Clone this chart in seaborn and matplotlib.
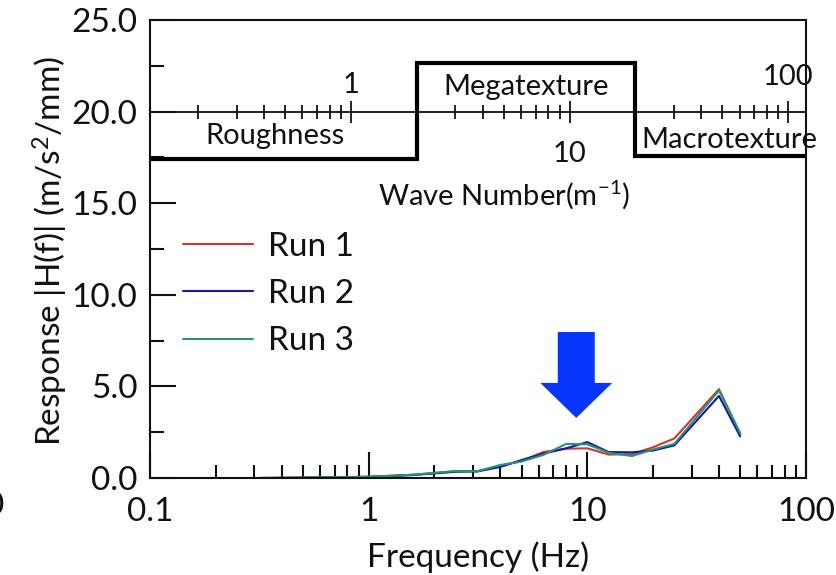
import matplotlib
matplotlib.use("Agg")
import numpy as np
import pandas as pd
import seaborn as sns
import matplotlib.pyplot as plt
from matplotlib.ticker import FixedLocator, LogLocator, MultipleLocator, NullFormatter, FuncFormatter, FormatStrFormatter

# Frequency response of the three runs (1/3-octave band centres)
freq_hz = [0.315, 0.4, 0.5, 0.63, 0.8, 1.0, 1.25, 1.6, 2.0, 2.5, 3.15, 4.0,
           5.0, 6.3, 8.0, 10.0, 12.5, 16.0, 20.0, 25.0, 40.0, 50.0]
run1 = [0.0, 0.01, 0.02, 0.03, 0.05, 0.07, 0.12, 0.18, 0.27, 0.37, 0.37, 0.66,
        0.93, 1.42, 1.60, 1.62, 1.28, 1.30, 1.68, 2.16, 4.85, 2.40]
run2 = [0.0, 0.01, 0.02, 0.03, 0.04, 0.06, 0.10, 0.16, 0.25, 0.34, 0.36, 0.60,
        0.98, 1.33, 1.62, 1.96, 1.42, 1.40, 1.50, 1.78, 4.48, 2.27]
run3 = [0.0, 0.01, 0.02, 0.03, 0.05, 0.07, 0.12, 0.18, 0.28, 0.38, 0.37, 0.71,
        0.90, 1.26, 1.86, 1.84, 1.38, 1.20, 1.56, 1.86, 4.78, 2.45]
run_names = ["Run 1", "Run 2", "Run 3"]
run_colors = ["#d2362f", "#1616b0", "#24966a"]

# Pavement texture bands on the wave-number scale
band_names = ["Roughness", "Megatexture", "Macrotexture"]
band_levels = [17.4, 22.65, 17.6]
band_inner_edges = [2.0, 20.0]      # wave number, 1/m
speed = 0.83                        # m/s, converts wave number to frequency
wave_ticks = [1, 10, 100]

x_ticks = [0.1, 1, 10, 100]

FS = 24      # axis labels, tick labels, legend
FS_IN = 21   # texts inside the plot

sns.set_theme(style="ticks")
plt.rcParams.update({
    "font.size": FS_IN,
    "axes.labelsize": FS,
    "legend.fontsize": FS,
    "xtick.labelsize": FS,
    "ytick.labelsize": FS,
    "mathtext.fontset": "custom",
    "mathtext.rm": "Lato",
    "mathtext.it": "Lato",
    "mathtext.bf": "Lato:bold",
    "axes.edgecolor": "#111111",
    "axes.labelcolor": "#111111",
    "axes.linewidth": 1.5,
    "text.color": "#111111",
    "xtick.color": "#111111",
    "ytick.color": "#111111",
})
plt.rcParams["font.family"] = ["Lato", "DejaVu Sans"]

fig = plt.figure(figsize=(8.37, 5.75), dpi=100)
ax = fig.add_axes([150 / 837, 1 - 478 / 575, 656 / 837, 458 / 575])
ax.set_xscale("log")

df = pd.DataFrame({
    "Frequency": freq_hz * 3,
    "Response": run1 + run2 + run3,
    "Run": sum([[n] * len(freq_hz) for n in run_names], []),
})
sns.lineplot(data=df, x="Frequency", y="Response", hue="Run",
             palette=dict(zip(run_names, run_colors)), linewidth=1.5, ax=ax)

ax.set_xlim(0.1, 100)
ax.set_ylim(0, 25)

# Axis ticks
ax.xaxis.set_major_locator(FixedLocator(x_ticks))
ax.xaxis.set_major_formatter(FuncFormatter(lambda v, p: f"{v:g}"))
ax.xaxis.set_minor_locator(LogLocator(base=10, subs=np.arange(2, 10)))
ax.xaxis.set_minor_formatter(NullFormatter())
ax.yaxis.set_major_locator(MultipleLocator(5))
ax.yaxis.set_minor_locator(MultipleLocator(2.5))
ax.yaxis.set_major_formatter(FormatStrFormatter("%.1f"))
ax.tick_params(which="both", direction="in", width=1.5, top=False, right=False)
ax.tick_params(axis="x", which="major", length=19, pad=14)
ax.tick_params(axis="x", which="minor", length=9.5)
ax.tick_params(axis="y", which="major", length=19, pad=9)
ax.tick_params(axis="y", which="minor", length=10)
for s in ax.spines.values():
    s.set_visible(True)
    s.set_linewidth(1.5)

ax.set_xlabel("Frequency (Hz)", labelpad=10)
ax.set_ylabel(r"Response |H(f)| (m/s$^{2}$/mm)")
ax.yaxis.set_label_coords(-0.122, 0.495)

# Wave-number scale drawn across the plot at y = 20
sec = ax.secondary_xaxis(0.8, functions=(lambda f: f / speed, lambda n: n * speed))
sec.xaxis.set_major_locator(FixedLocator(wave_ticks))
sec.xaxis.set_minor_locator(LogLocator(base=10, subs=np.arange(2, 10)))
sec.xaxis.set_minor_formatter(NullFormatter())
sec.tick_params(which="both", direction="inout", width=1.3, labeltop=False, labelbottom=False)
sec.tick_params(which="major", length=16)
sec.tick_params(which="minor", length=10)
for s in sec.spines.values():
    s.set_linewidth(1.3)
sec.set_xlabel("")

wave_label_y = [21.45, 17.7, 21.9]
for n, yv in zip(wave_ticks, wave_label_y):
    ax.text(n * speed, yv, f"{n}", ha="center", va="center", fontsize=FS_IN)
ax.text(4.18, 15.45, r"Wave Number(m$^{-1}$)", ha="center", va="center", fontsize=FS_IN)

# Texture band outline
edges = [0.1] + [n * speed for n in band_inner_edges] + [100]
ax.stairs(band_levels, edges, baseline=None, color="black", linewidth=3)
band_label_pos = [(0.372, 18.67), (5.27, 21.34), (44.5, 18.45)]
for name, (xv, yv) in zip(band_names, band_label_pos):
    ax.text(xv, yv, name, ha="center", va="center", fontsize=FS_IN)

# Highlight arrow
ax.annotate("", xy=(8.9, 3.28), xytext=(8.9, 7.97),
            arrowprops=dict(arrowstyle="simple,head_length=0.70,head_width=1.44,tail_width=0.74",
                            mutation_scale=36, color="#0636fb", lw=0,
                            shrinkA=0, shrinkB=0))

sns.move_legend(ax, loc="center left", bbox_to_anchor=(0.03, 0.402), title=None,
                frameon=False, handlelength=2.1, handletextpad=0.45,
                labelspacing=0.52, borderaxespad=0)

fig.text(4 / 837, 1 - 506 / 575, "0", ha="right", va="center", fontsize=FS)

fig.savefig("out.png", dpi=100)
